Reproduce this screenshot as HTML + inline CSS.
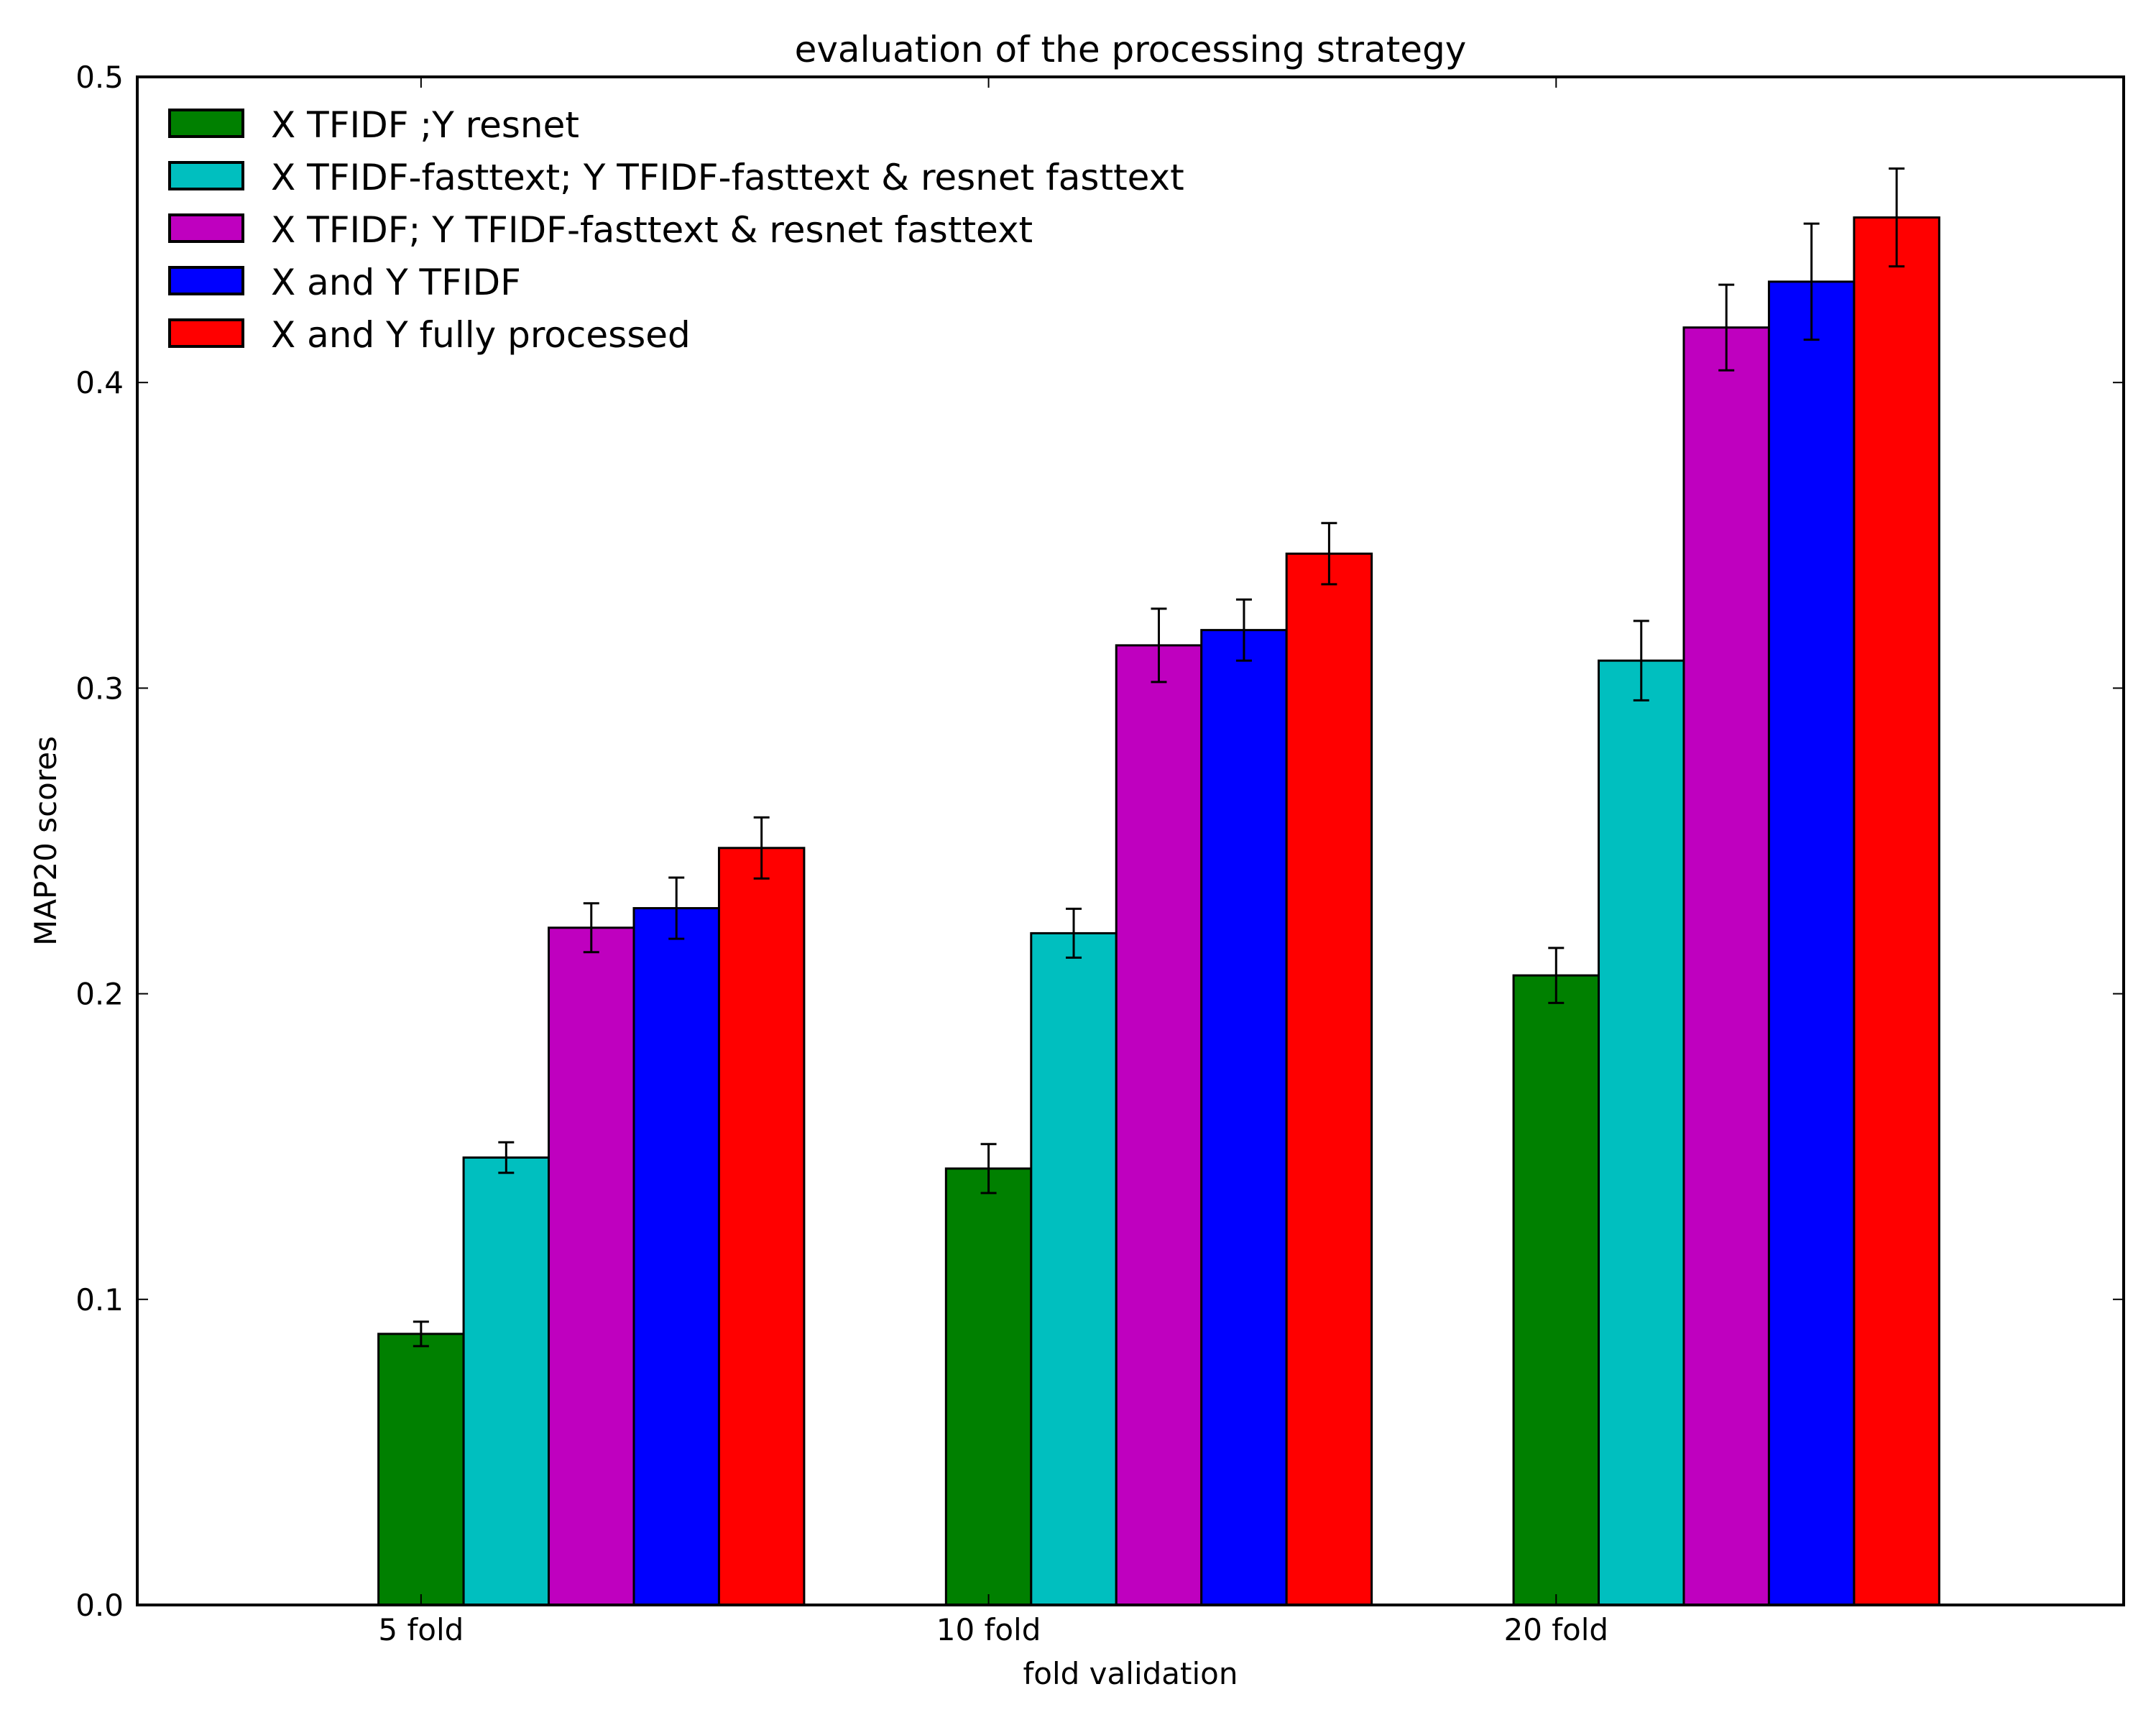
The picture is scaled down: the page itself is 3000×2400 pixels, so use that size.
<!DOCTYPE html>
<html><head><meta charset="utf-8"><style>
html,body{margin:0;padding:0;background:#fff;}
svg{display:block;font-family:"DejaVu Sans","Liberation Sans",sans-serif;}
</style></head><body>
<svg id="chart" width="3000" height="2400" xmlns="http://www.w3.org/2000/svg">
<rect width="3000" height="2400" fill="#fff"/>
<g id="plot"></g>
</svg>
<script>
const categories = ["5 fold", "10 fold", "20 fold"];
const seriesNames = ["X TFIDF ;Y resnet", "X TFIDF-fasttext; Y TFIDF-fasttext & resnet fasttext", "X TFIDF; Y TFIDF-fasttext & resnet fasttext", "X and Y TFIDF", "X and Y fully processed"];
const seriesColors = ["#008000", "#00bfbf", "#bf00bf", "#0000ff", "#ff0000"];
const valuesGreen = [0.0887, 0.1428, 0.206];
const valuesCyan = [0.1464, 0.2198, 0.309];
const valuesMagenta = [0.2216, 0.314, 0.418];
const valuesBlue = [0.228, 0.319, 0.433];
const valuesRed = [0.2477, 0.344, 0.454];
const errGreen = [0.004, 0.008, 0.009];
const errCyan = [0.005, 0.008, 0.013];
const errMagenta = [0.008, 0.012, 0.014];
const errBlue = [0.010, 0.010, 0.019];
const errRed = [0.010, 0.010, 0.016];
const yTicks = [0.0, 0.1, 0.2, 0.3, 0.4, 0.5];
const yTickLabels = ["0.0", "0.1", "0.2", "0.3", "0.4", "0.5"];

const allValues = [valuesGreen, valuesCyan, valuesMagenta, valuesBlue, valuesRed];
const allErrs = [errGreen, errCyan, errMagenta, errBlue, errRed];
const L = 191, R = 2955, T = 107, B = 2233;
const xMin = -0.5, xMax = 3.0, yMin = 0, yMax = 0.5;
const barW = 0.15;
function xs(v){ return L + (v - xMin) / (xMax - xMin) * (R - L); }
function ys(v){ return B - (v - yMin) / (yMax - yMin) * (B - T); }
const NS = "http://www.w3.org/2000/svg";
const g = document.getElementById('plot');
function mk(tag, attrs, parent){
  const e = document.createElementNS(NS, tag);
  for (const k in attrs) e.setAttribute(k, attrs[k]);
  (parent || g).appendChild(e);
  return e;
}
allValues.forEach((vals, s) => {
  vals.forEach((v, i) => {
    const cx = i + s * barW;
    const x0 = xs(cx - barW / 2), x1 = xs(cx + barW / 2);
    const r = mk('rect', {x: x0, y: ys(v), width: x1 - x0, height: ys(0) - ys(v), fill: seriesColors[s], stroke: '#000', 'stroke-width': 3});
    
    
  });
});
allValues.forEach((vals, s) => {
  vals.forEach((v, i) => {
    const cx = xs(i + s * barW);
    const e = allErrs[s][i];
    const eg = mk('g', {stroke: '#000', 'stroke-width': 3});
    
    
    mk('line', {x1: cx, x2: cx, y1: ys(v - e), y2: ys(v + e)}, eg);
    mk('line', {x1: cx - 11, x2: cx + 11, y1: ys(v - e), y2: ys(v - e)}, eg);
    mk('line', {x1: cx - 11, x2: cx + 11, y1: ys(v + e), y2: ys(v + e)}, eg);
  });
});
yTicks.forEach((t, i) => {
  const y = ys(t);
  const tk = mk('g', {stroke: '#000', 'stroke-width': 2});
  
  
  mk('line', {x1: L, x2: L + 15, y1: y, y2: y}, tk);
  mk('line', {x1: R, x2: R - 15, y1: y, y2: y}, tk);
  const tl = mk('text', {x: 172, y: y + 15, 'text-anchor': 'end', 'font-size': 42});
  tl.textContent = yTickLabels[i];
  
  
});
categories.forEach((c, i) => {
  const x = xs(i);
  const tk = mk('g', {stroke: '#000', 'stroke-width': 2});
  
  
  mk('line', {x1: x, x2: x, y1: B, y2: B - 15}, tk);
  mk('line', {x1: x, x2: x, y1: T, y2: T + 15}, tk);
  const tl = mk('text', {x: x, y: 2282, 'text-anchor': 'middle', 'font-size': 42});
  tl.textContent = c;
  
  
});
const fr = mk('rect', {x: L, y: T, width: R - L, height: B - T, fill: 'none', stroke: '#000', 'stroke-width': 4});


seriesNames.forEach((n, s) => {
  const y0 = 153 + s * 73;
  const lg = mk('g', {});
  
  
  mk('rect', {x: 236, y: y0, width: 102, height: 37, fill: seriesColors[s], stroke: '#000', 'stroke-width': 4}, lg);
  const t = mk('text', {x: 377, y: y0 + 38, 'font-size': 50}, lg);
  t.textContent = n;
});
const title = mk('text', {x: (L + R) / 2, y: 86, 'text-anchor': 'middle', 'font-size': 50});
title.textContent = 'evaluation of the processing strategy';


const xl = mk('text', {x: (L + R) / 2, y: 2343, 'text-anchor': 'middle', 'font-size': 42});
xl.textContent = 'fold validation';


const yl = mk('text', {x: 0, y: 0, 'text-anchor': 'middle', 'font-size': 42, transform: 'translate(78,' + ((T + B) / 2) + ') rotate(-90)'});
yl.textContent = 'MAP20 scores';


</script>
</body></html>
